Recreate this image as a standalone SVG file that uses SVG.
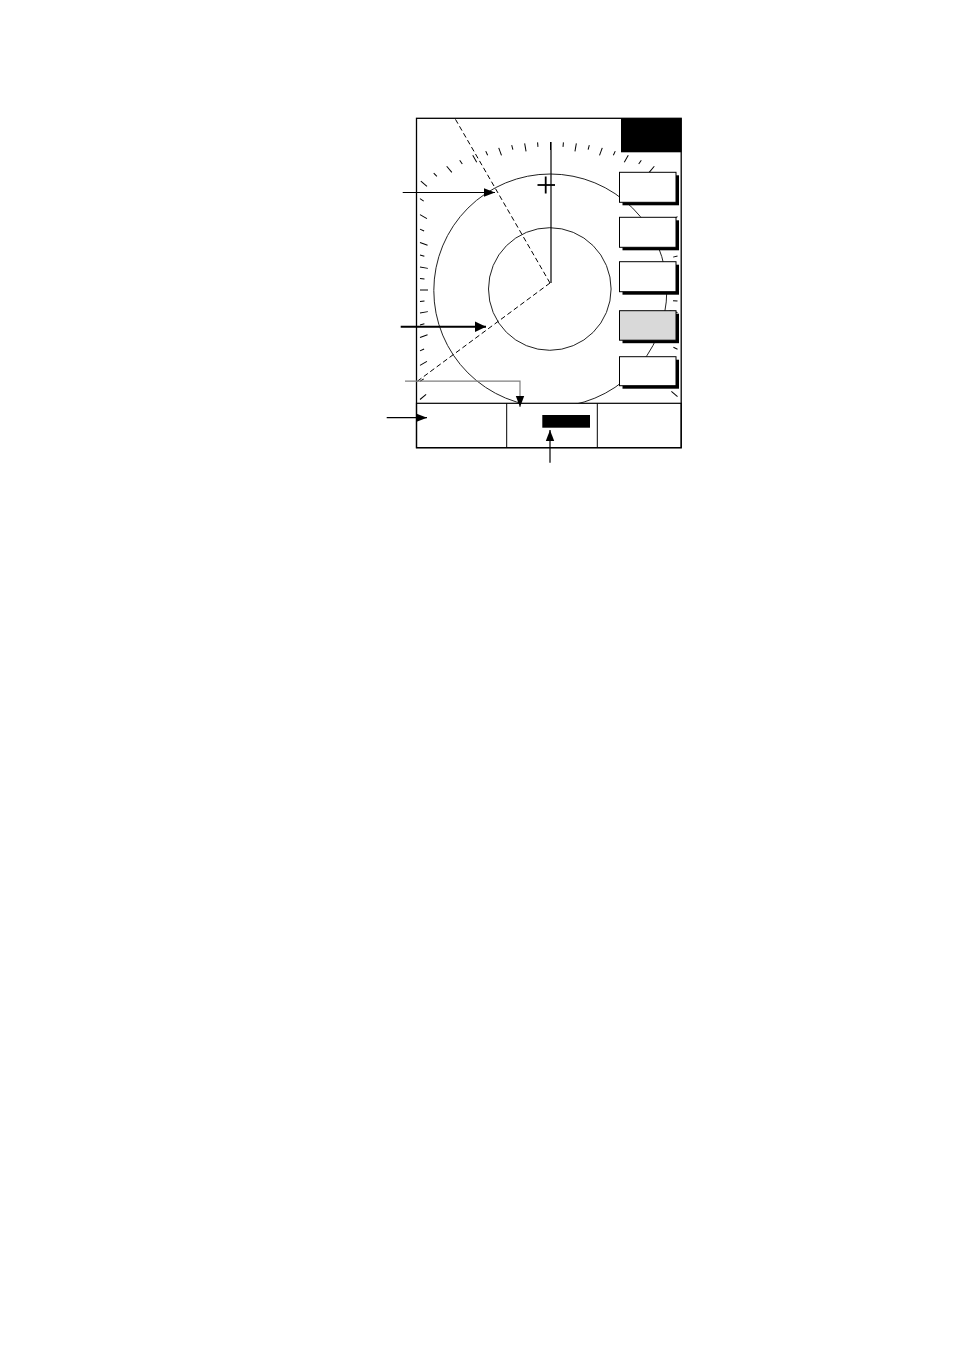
<svg xmlns="http://www.w3.org/2000/svg" width="954" height="1351" viewBox="0 0 954 1351">
<style>
.tk{stroke:#000;stroke-width:1}
.ring{fill:none;stroke:#222;stroke-width:1}
.dash{fill:none;stroke:#000;stroke-width:1;stroke-dasharray:5,3}
.btn{fill:#fff;stroke:#000;stroke-width:1}
.shd{fill:#000}
.ln{fill:none;stroke:#000;stroke-width:1.2}
</style>
<defs>
<marker id="ah" markerUnits="userSpaceOnUse" markerWidth="12" markerHeight="10" refX="11" refY="5" orient="auto">
<path d="M0,0.8 L11,5 L0,9.2 Z" fill="#000"/>
</marker>
<marker id="ahL" markerUnits="userSpaceOnUse" markerWidth="12" markerHeight="12" refX="11" refY="6" orient="auto">
<path d="M0,0.8 L11,6 L0,11.2 Z" fill="#000"/>
</marker>
</defs>
<rect width="954" height="1351" fill="#fff"/>
<g id="ticks">
<line class="tk" x1="550.5" y1="142" x2="550.5" y2="150" transform="rotate(0 550.5 290)"/>
<line class="tk" x1="550.5" y1="141.79" x2="550.5" y2="146.29" transform="rotate(5 550.5 290)"/>
<line class="tk" x1="550.5" y1="141.17" x2="550.5" y2="149.17" transform="rotate(10 550.5 290)"/>
<line class="tk" x1="550.5" y1="140.13" x2="550.5" y2="144.63" transform="rotate(15 550.5 290)"/>
<line class="tk" x1="550.5" y1="138.67" x2="550.5" y2="146.67" transform="rotate(20 550.5 290)"/>
<line class="tk" x1="550.5" y1="136.78" x2="550.5" y2="141.28" transform="rotate(25 550.5 290)"/>
<line class="tk" x1="550.5" y1="134.46" x2="550.5" y2="142.46" transform="rotate(30 550.5 290)"/>
<line class="tk" x1="550.5" y1="131.71" x2="550.5" y2="136.21" transform="rotate(35 550.5 290)"/>
<line class="tk" x1="550.5" y1="128.5" x2="550.5" y2="136.5" transform="rotate(40 550.5 290)"/>
<line class="tk" x1="550.5" y1="124.85" x2="550.5" y2="129.35" transform="rotate(45 550.5 290)"/>
<line class="tk" x1="550.5" y1="124.2" x2="550.5" y2="132.2" transform="rotate(50 550.5 290)"/>
<line class="tk" x1="550.5" y1="134.97" x2="550.5" y2="139.47" transform="rotate(55 550.5 290)"/>
<line class="tk" x1="550.5" y1="143.35" x2="550.5" y2="151.35" transform="rotate(60 550.5 290)"/>
<line class="tk" x1="550.5" y1="149.87" x2="550.5" y2="154.37" transform="rotate(65 550.5 290)"/>
<line class="tk" x1="550.5" y1="154.85" x2="550.5" y2="162.85" transform="rotate(70 550.5 290)"/>
<line class="tk" x1="550.5" y1="158.52" x2="550.5" y2="163.02" transform="rotate(75 550.5 290)"/>
<line class="tk" x1="550.5" y1="161.04" x2="550.5" y2="169.04" transform="rotate(80 550.5 290)"/>
<line class="tk" x1="550.5" y1="162.52" x2="550.5" y2="167.02" transform="rotate(85 550.5 290)"/>
<line class="tk" x1="550.5" y1="163" x2="550.5" y2="171" transform="rotate(90 550.5 290)"/>
<line class="tk" x1="550.5" y1="162.52" x2="550.5" y2="167.02" transform="rotate(95 550.5 290)"/>
<line class="tk" x1="550.5" y1="161.04" x2="550.5" y2="169.04" transform="rotate(100 550.5 290)"/>
<line class="tk" x1="550.5" y1="158.52" x2="550.5" y2="163.02" transform="rotate(105 550.5 290)"/>
<line class="tk" x1="550.5" y1="154.85" x2="550.5" y2="162.85" transform="rotate(110 550.5 290)"/>
<line class="tk" x1="550.5" y1="149.87" x2="550.5" y2="154.37" transform="rotate(115 550.5 290)"/>
<line class="tk" x1="550.5" y1="143.35" x2="550.5" y2="151.35" transform="rotate(120 550.5 290)"/>
<line class="tk" x1="550.5" y1="134.97" x2="550.5" y2="139.47" transform="rotate(125 550.5 290)"/>
<line class="tk" x1="550.5" y1="124.2" x2="550.5" y2="132.2" transform="rotate(130 550.5 290)"/>
<line class="tk" x1="550.5" y1="119.64" x2="550.5" y2="127.64" transform="rotate(230 550.5 290)"/>
<line class="tk" x1="550.5" y1="130.7" x2="550.5" y2="135.2" transform="rotate(235 550.5 290)"/>
<line class="tk" x1="550.5" y1="139.31" x2="550.5" y2="147.31" transform="rotate(240 550.5 290)"/>
<line class="tk" x1="550.5" y1="146.01" x2="550.5" y2="150.51" transform="rotate(245 550.5 290)"/>
<line class="tk" x1="550.5" y1="151.13" x2="550.5" y2="159.13" transform="rotate(250 550.5 290)"/>
<line class="tk" x1="550.5" y1="154.9" x2="550.5" y2="159.4" transform="rotate(255 550.5 290)"/>
<line class="tk" x1="550.5" y1="157.49" x2="550.5" y2="165.49" transform="rotate(260 550.5 290)"/>
<line class="tk" x1="550.5" y1="159" x2="550.5" y2="163.5" transform="rotate(265 550.5 290)"/>
<line class="tk" x1="550.5" y1="159.5" x2="550.5" y2="167.5" transform="rotate(270 550.5 290)"/>
<line class="tk" x1="550.5" y1="159" x2="550.5" y2="163.5" transform="rotate(275 550.5 290)"/>
<line class="tk" x1="550.5" y1="157.49" x2="550.5" y2="165.49" transform="rotate(280 550.5 290)"/>
<line class="tk" x1="550.5" y1="154.9" x2="550.5" y2="159.4" transform="rotate(285 550.5 290)"/>
<line class="tk" x1="550.5" y1="151.13" x2="550.5" y2="159.13" transform="rotate(290 550.5 290)"/>
<line class="tk" x1="550.5" y1="146.01" x2="550.5" y2="150.51" transform="rotate(295 550.5 290)"/>
<line class="tk" x1="550.5" y1="139.31" x2="550.5" y2="147.31" transform="rotate(300 550.5 290)"/>
<line class="tk" x1="550.5" y1="130.7" x2="550.5" y2="135.2" transform="rotate(305 550.5 290)"/>
<line class="tk" x1="550.5" y1="120.75" x2="550.5" y2="128.75" transform="rotate(310 550.5 290)"/>
<line class="tk" x1="550.5" y1="124.85" x2="550.5" y2="129.35" transform="rotate(315 550.5 290)"/>
<line class="tk" x1="550.5" y1="128.5" x2="550.5" y2="136.5" transform="rotate(320 550.5 290)"/>
<line class="tk" x1="550.5" y1="131.71" x2="550.5" y2="136.21" transform="rotate(325 550.5 290)"/>
<line class="tk" x1="550.5" y1="134.46" x2="550.5" y2="142.46" transform="rotate(330 550.5 290)"/>
<line class="tk" x1="550.5" y1="136.78" x2="550.5" y2="141.28" transform="rotate(335 550.5 290)"/>
<line class="tk" x1="550.5" y1="138.67" x2="550.5" y2="146.67" transform="rotate(340 550.5 290)"/>
<line class="tk" x1="550.5" y1="140.13" x2="550.5" y2="144.63" transform="rotate(345 550.5 290)"/>
<line class="tk" x1="550.5" y1="141.17" x2="550.5" y2="149.17" transform="rotate(350 550.5 290)"/>
<line class="tk" x1="550.5" y1="141.79" x2="550.5" y2="146.29" transform="rotate(355 550.5 290)"/>
</g>
<g id="rings">
<circle class="ring" cx="550.3" cy="290.5" r="116.5"/>
<circle class="ring" cx="549.8" cy="289" r="61.3"/>
</g>
<g id="heading">
<line x1="551" y1="142" x2="551" y2="283" stroke="#000" stroke-width="1.2"/>
</g>
<g id="ebl-lines">
<line class="dash" x1="550" y1="283" x2="455" y2="118.5"/>
<line class="dash" x1="550" y1="283" x2="417" y2="381.5"/>
</g>
<g id="cursor">
<line x1="537.5" y1="185" x2="555" y2="185" stroke="#000" stroke-width="1.8"/>
<line x1="545.7" y1="176.5" x2="545.7" y2="193.5" stroke="#000" stroke-width="1.8"/>
</g>
<g id="top-right-box">
<rect x="621" y="118.3" width="60.5" height="34" fill="#000"/>
</g>
<g id="buttons">
<g id="btn1"><rect class="shd" x="622.5" y="175.3" width="56.5" height="30"/><rect class="btn" x="619.5" y="172.3" width="56.5" height="30"/></g>
<g id="btn2"><rect class="shd" x="622.5" y="220.3" width="56.5" height="30"/><rect class="btn" x="619.5" y="217.3" width="56.5" height="30"/></g>
<g id="btn3"><rect class="shd" x="622.5" y="264.7" width="56.5" height="30"/><rect class="btn" x="619.5" y="261.7" width="56.5" height="30"/></g>
<g id="btn4"><rect class="shd" x="622.5" y="313.7" width="56.5" height="29.5"/><rect class="btn" x="619.5" y="310.7" width="56.5" height="29.5" style="fill:#d9d9d9"/></g>
<g id="btn5"><rect class="shd" x="622.5" y="359.7" width="56.5" height="29"/><rect class="btn" x="619.5" y="356.7" width="56.5" height="29"/></g>
</g>
<g id="bottom-panel">
<rect x="416.5" y="403.3" width="264.7" height="44.4" fill="#fff" stroke="#000" stroke-width="1.2"/>
<line x1="506.7" y1="403.3" x2="506.7" y2="447.7" stroke="#000" stroke-width="1"/>
<line x1="597.3" y1="403.3" x2="597.3" y2="447.7" stroke="#000" stroke-width="1"/>
<rect x="542.3" y="415" width="47.7" height="12.7" fill="#000"/>
</g>
<g id="frame">
<rect x="416.5" y="118.3" width="264.7" height="329.4" fill="none" stroke="#000" stroke-width="1.3"/>
</g>
<g id="connectors">
<line class="ln" x1="402.7" y1="192.5" x2="495" y2="192.5" marker-end="url(#ah)"/>
<line x1="400.7" y1="326.7" x2="486" y2="326.7" stroke="#000" stroke-width="2" marker-end="url(#ahL)"/>
<polyline points="405,381.2 520,381.2 520,407" fill="none" stroke="#808080" stroke-width="1.2" marker-end="url(#ah)"/>
<line class="ln" x1="386.7" y1="417.7" x2="427" y2="417.7" marker-end="url(#ah)"/>
<line class="ln" x1="550" y1="462.7" x2="550" y2="430" marker-end="url(#ah)"/>
</g>
</svg>
